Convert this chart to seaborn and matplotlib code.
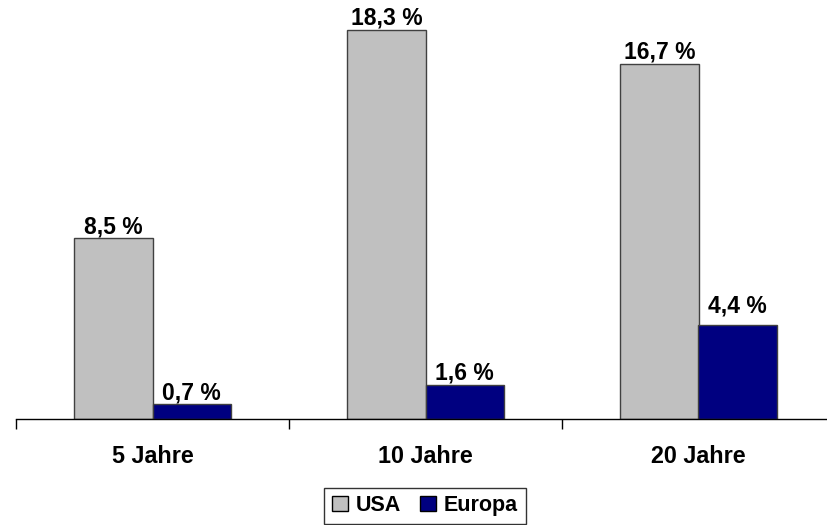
import matplotlib
matplotlib.use("Agg")
import matplotlib.pyplot as plt
import seaborn as sns
import pandas as pd
from matplotlib.patches import Patch

# Data
zeitraum = ["5 Jahre", "10 Jahre", "20 Jahre"]
regionen = ["USA", "Europa"]
usa = [8.5, 18.3, 16.7]
europa = [0.7, 1.6, 4.4]
farben = {"USA": "#C0C0C0", "Europa": "#000080"}

df = pd.DataFrame({
    "Zeitraum": zeitraum * 2,
    "Region": ["USA"] * 3 + ["Europa"] * 3,
    "Wert": usa + europa,
})

sns.set_style("white")
plt.rcParams["font.family"] = ["Liberation Sans", "DejaVu Sans"]
plt.rcParams["font.weight"] = "bold"
plt.rcParams["text.color"] = "black"
plt.rcParams["xtick.color"] = "black"
plt.rcParams["xtick.labelcolor"] = "black"

fig = plt.figure(figsize=(8.27, 5.25), dpi=100)
ax = fig.add_axes([16 / 827, 106 / 525, 819 / 827, 419 / 525])

sns.barplot(data=df, x="Zeitraum", y="Wert", hue="Region", order=zeitraum,
            hue_order=regionen, palette=farben, width=0.572, gap=0,
            saturation=1, edgecolor="#404040", linewidth=1, ax=ax,
            legend=False)

ax.set_xlim(-0.5, 2.5)
ax.set_ylim(0, 19.71)


def fmt(v):
    return f"{v:.1f} %".replace(".", ",")


# USA labels sit right on the bars
usa_bars = ax.containers[0]
ax.bar_label(usa_bars, labels=[fmt(b.get_height()) for b in usa_bars],
             padding=0, fontsize=16.5, fontweight="bold", color="black")

# Europa labels; the last one is lifted a little higher
eu_bars = ax.containers[1]
eu_vals = [fmt(b.get_height()) for b in eu_bars]
ax.bar_label(eu_bars, labels=eu_vals[:2] + [""], padding=0, fontsize=16.5,
             fontweight="bold", color="black")
ax.bar_label(eu_bars, labels=["", ""] + eu_vals[2:], padding=6, fontsize=16.5,
             fontweight="bold", color="black")

for side in ["left", "right", "top"]:
    ax.spines[side].set_visible(False)
ax.spines["bottom"].set_color("black")
ax.spines["bottom"].set_linewidth(1)

ax.set_yticks([])
ax.set_xticks(range(len(zeitraum)))
ax.set_xticklabels(zeitraum, fontsize=16.8, fontweight="bold", color="black")
ax.tick_params(axis="x", which="major", bottom=True, length=0, pad=18.5)
ax.set_xticks([-0.5, 0.5, 1.5, 2.5], minor=True)
ax.tick_params(axis="x", which="minor", bottom=True, length=7, width=1,
               color="black", direction="out")
ax.set_xlabel("")
ax.set_ylabel("")

handles = [Patch(facecolor=farben[r], edgecolor="black", linewidth=1) for r in regionen]
leg = fig.legend(handles, regionen, loc="center", bbox_to_anchor=(0.514, 0.037),
                 bbox_transform=fig.transFigure, ncol=2, frameon=True,
                 fancybox=False, edgecolor="black",
                 prop={"weight": "bold", "size": 15.5},
                 handlelength=0.75, handleheight=0.75, handletextpad=0.35,
                 columnspacing=0.9, borderpad=0.35, borderaxespad=0)
leg.get_frame().set_linewidth(1)

fig.savefig("out.png", dpi=100)
